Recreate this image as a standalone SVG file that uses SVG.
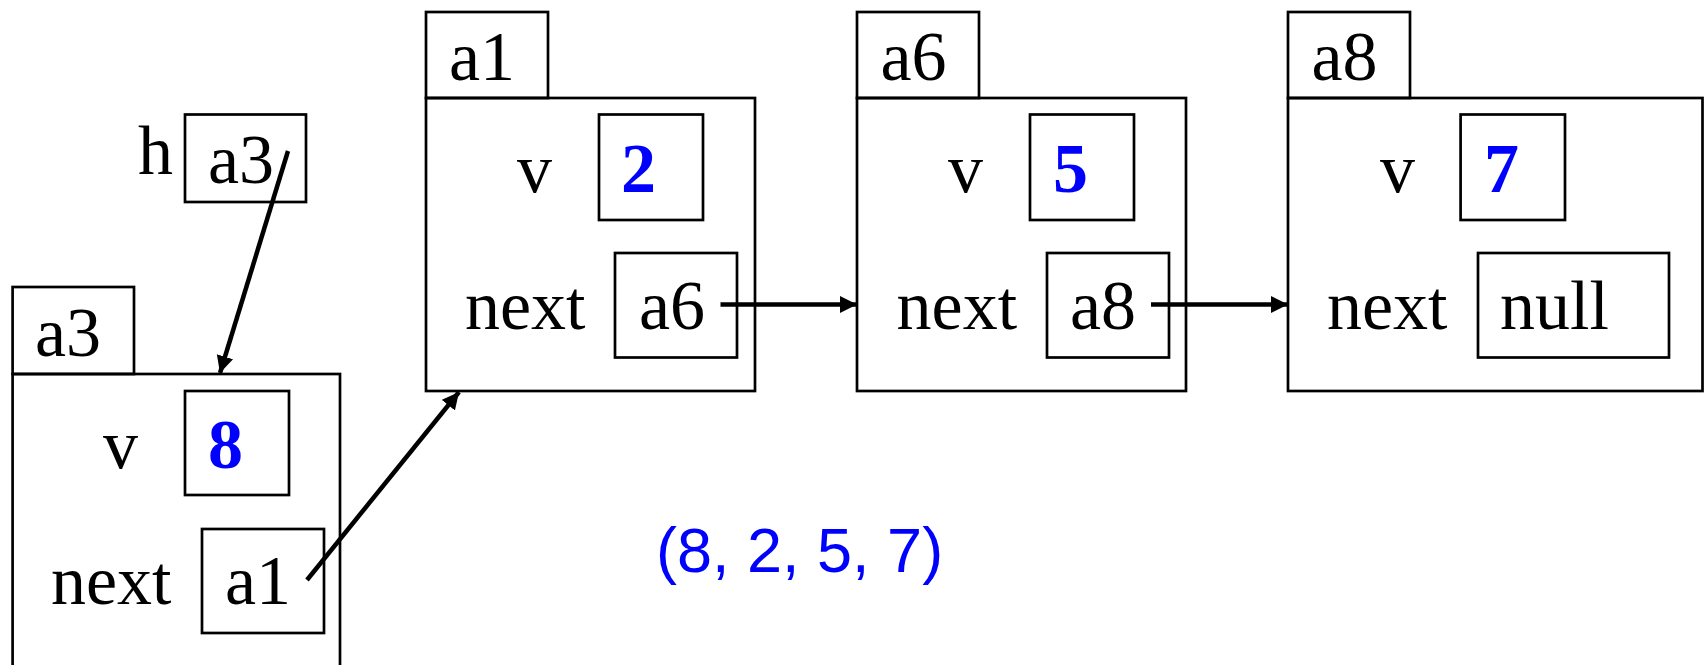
<svg xmlns="http://www.w3.org/2000/svg" width="1704" height="665" viewBox="0 0 1704 665">
<defs>
<marker id="arr" markerUnits="userSpaceOnUse" markerWidth="19" markerHeight="18" refX="17" refY="8.5" orient="auto">
<path d="M0,0 L17,8.5 L0,17 z" fill="#000"/>
</marker>
<style>
rect{fill:none;stroke:#000;stroke-width:2.7}
.t{font-family:"Liberation Serif","Times New Roman",serif;font-size:70px;fill:#000}
.n{font-family:"Liberation Serif","Times New Roman",serif;font-size:70px;font-weight:bold;fill:#0000ff}
.s{font-family:"Liberation Sans",Arial,sans-serif;font-size:63px;fill:#0000ff}
.c{stroke:#000;stroke-width:4.5;fill:none;marker-end:url(#arr)}
</style>
</defs>
<rect x="0" y="0" width="1704" height="665" style="fill:#fff;stroke:none"/>
<g id="h">
<text class="t" x="138" y="174">h</text>
<rect x="185" y="114.5" width="121" height="87.5"/>
<text class="t" x="208" y="183">a3</text>
</g>
<g id="a3">
<rect x="12.6" y="287" width="121.4" height="87"/>
<rect x="12.6" y="374" width="327.4" height="300"/>
<text class="t" x="35" y="356">a3</text>
<text class="t" x="103" y="468">v</text>
<rect x="185" y="391" width="104" height="104"/>
<text class="n" x="208" y="468">8</text>
<text class="t" x="51" y="604">next</text>
<rect x="202" y="529" width="122" height="104"/>
<text class="t" x="225" y="604">a1</text>
</g>
<g id="a1">
<rect x="426" y="12" width="122" height="86"/>
<rect x="426" y="98" width="329" height="293"/>
<text class="t" x="449" y="80">a1</text>
<text class="t" x="517" y="192">v</text>
<rect x="599" y="114.5" width="104" height="105.5"/>
<text class="n" x="621" y="192">2</text>
<text class="t" x="465" y="329">next</text>
<rect x="615" y="253" width="122" height="104.5"/>
<text class="t" x="639" y="329">a6</text>
</g>
<g id="a6">
<rect x="857" y="12" width="122" height="86"/>
<rect x="857" y="98" width="329" height="293"/>
<text class="t" x="880.5" y="80">a6</text>
<text class="t" x="948" y="192">v</text>
<rect x="1030" y="114.5" width="104" height="105.5"/>
<text class="n" x="1053" y="192">5</text>
<text class="t" x="896.6" y="329">next</text>
<rect x="1047" y="253" width="122" height="104.5"/>
<text class="t" x="1070" y="329">a8</text>
</g>
<g id="a8">
<rect x="1288" y="12" width="122" height="86"/>
<rect x="1288" y="98" width="414.5" height="293"/>
<text class="t" x="1311.5" y="80">a8</text>
<text class="t" x="1380" y="192">v</text>
<rect x="1460.6" y="114.5" width="104.4" height="105.5"/>
<text class="n" x="1484" y="192">7</text>
<text class="t" x="1327" y="329">next</text>
<rect x="1478" y="253" width="191" height="104.5"/>
<text class="t" x="1500" y="329">null</text>
</g>
<g id="result">
<text class="s" x="656" y="572">(8, 2, 5, 7)</text>
</g>
<g id="connectors">
<line class="c" x1="288" y1="151" x2="220" y2="373"/>
<line class="c" x1="307" y1="580" x2="459" y2="392"/>
<line class="c" x1="720.5" y1="304.5" x2="857" y2="304.5"/>
<line class="c" x1="1151" y1="304.5" x2="1288" y2="304.5"/>
</g>
</svg>
